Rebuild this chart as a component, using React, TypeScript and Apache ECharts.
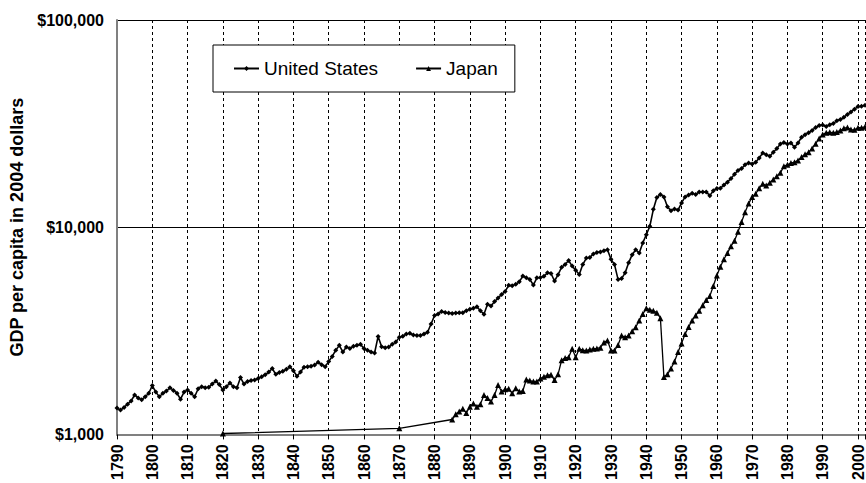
import React, { useEffect, useRef } from "react";
import * as echarts from "echarts";

// ---- data (GDP per capita, 2004 dollars) ----
const usStartYear = 1790;
const usValues = [
  1340, 1310, 1350, 1400, 1450, 1550, 1500, 1470, 1520, 1580, // 1790s
  1720, 1600, 1520, 1580, 1620, 1680, 1630, 1580, 1480, 1600, // 1800s
  1640, 1580, 1520, 1660, 1700, 1680, 1690, 1750, 1810, 1740, // 1810s
  1640, 1700, 1770, 1700, 1680, 1880, 1750, 1800, 1820, 1830, // 1820s
  1860, 1900, 1940, 2000, 2080, 1950, 1990, 2020, 2060, 2120, // 1830s
  2030, 1910, 2000, 2110, 2120, 2130, 2160, 2230, 2170, 2120, // 1840s
  2250, 2380, 2550, 2690, 2500, 2640, 2600, 2660, 2690, 2720, // 1850s
  2600, 2550, 2500, 2470, 2970, 2650, 2620, 2640, 2720, 2790, // 1860s
  2940, 2980, 3050, 3080, 3020, 3000, 3000, 3050, 3110, 3410, // 1870s
  3750, 3810, 3920, 3880, 3850, 3830, 3850, 3870, 3870, 3950, // 1880s
  4020, 4060, 4130, 3950, 3800, 4250, 4170, 4380, 4550, 4740, // 1890s
  4900, 5240, 5220, 5300, 5450, 5810, 5700, 5600, 5260, 5700, // 1900s
  5720, 5800, 6020, 5980, 5500, 5900, 6410, 6600, 6900, 6490, // 1910s
  6200, 5910, 6600, 7100, 7150, 7430, 7550, 7600, 7700, 7790, // 1920s
  7000, 6600, 5600, 5650, 6020, 6730, 7370, 7790, 7510, 8400, // 1930s
  9200, 10100, 12200, 13900, 14400, 14000, 12560, 12000, 12250, 12100, // 1940s
  13100, 14000, 14300, 14600, 14400, 14800, 14800, 14800, 14200, 15000, // 1950s
  15370, 15400, 16000, 16500, 17200, 18000, 18800, 19200, 20000, 20400, // 1960s
  20200, 20600, 21600, 22800, 22400, 22000, 23000, 24000, 25200, 25600, // 1970s
  25200, 25500, 24300, 25500, 27200, 27900, 28600, 29300, 30300, 31000, // 1980s
  31100, 30600, 31200, 31700, 32600, 33100, 33900, 35000, 36000, 37100, // 1990s
  38200, 38300, 38800, // 2000s
];

const japanYears = [
  1820, 1870,
  1885, 1886, 1887, 1888, 1889, 1890, 1891, 1892, 1893, 1894, 1895, 1896, 1897, 1898, 1899,
  1900, 1901, 1902, 1903, 1904, 1905, 1906, 1907, 1908, 1909,
  1910, 1911, 1912, 1913, 1914, 1915, 1916, 1917, 1918, 1919,
  1920, 1921, 1922, 1923, 1924, 1925, 1926, 1927, 1928, 1929,
  1930, 1931, 1932, 1933, 1934, 1935, 1936, 1937, 1938, 1939,
  1940, 1941, 1942, 1943, 1944, 1945, 1946, 1947, 1948, 1949,
  1950, 1951, 1952, 1953, 1954, 1955, 1956, 1957, 1958, 1959,
  1960, 1961, 1962, 1963, 1964, 1965, 1966, 1967, 1968, 1969,
  1970, 1971, 1972, 1973, 1974, 1975, 1976, 1977, 1978, 1979,
  1980, 1981, 1982, 1983, 1984, 1985, 1986, 1987, 1988, 1989,
  1990, 1991, 1992, 1993, 1994, 1995, 1996, 1997, 1998, 1999,
  2000, 2001, 2002,
];
const japanValues = [
  1010, 1070,
  1180, 1250, 1290, 1330, 1270, 1360, 1410, 1360, 1400, 1550, 1500, 1440, 1550, 1730, 1610,
  1650, 1660, 1580, 1670, 1610, 1620, 1840, 1820, 1800, 1800,
  1860, 1900, 1930, 1940, 1830, 1950, 2280, 2340, 2360, 2590,
  2360, 2590, 2550, 2540, 2570, 2590, 2600, 2620, 2780, 2840,
  2540, 2540, 2700, 3000, 2940, 3000, 3150, 3290, 3550, 3810,
  4060, 4000, 3950, 3870, 3640, 1890, 1950, 2080, 2250, 2500,
  2750, 3050, 3300, 3550, 3750, 3950, 4200, 4450, 4650, 5200,
  5850, 6450, 7000, 7500, 8100, 8600, 9500, 10600, 11800, 13000,
  14000, 14500, 15400, 16200, 15900, 16400, 17000, 17600, 18300, 19700,
  20000, 20400, 20600, 21000, 21800, 22500, 23000, 24000, 25300, 26800,
  28000, 28600, 28700, 28600, 28800, 29300, 30000, 30300, 29600, 29500,
  30200, 30200, 30500,
];

const yTickValues = [1000, 10000, 100000];
const yTickLabels = ["$1,000", "$10,000", "$100,000"];
const seriesNames = ["United States", "Japan"];
const yAxisTitle = "GDP per capita in 2004 dollars";

const FONT = "'Liberation Sans', Arial, sans-serif";

export default function App() {
  const ref = useRef<HTMLDivElement>(null);

  useEffect(() => {
    document.body.style.margin = "0";
    if (!ref.current) return;
    const chart = echarts.init(ref.current, null, { renderer: "svg" });

    const usData = usValues.map((v, i) => [usStartYear + i, v]);
    const jpData = japanYears.map((y, i) => [y, japanValues[i]]);

    chart.setOption({
      animation: false,
      backgroundColor: "#fff",
      textStyle: { fontFamily: FONT },
      grid: { left: 117, top: 20, right: 0, bottom: 45, containLabel: false },
      legend: {
        left: 213,
        top: 45,
        orient: "horizontal",
        backgroundColor: "#fff",
        borderColor: "#000",
        borderWidth: 1,
        padding: [14, 17, 14, 20],
        itemGap: 37,
        itemWidth: 25,
        itemHeight: 6,
        data: seriesNames,
        textStyle: { fontSize: 19, fontFamily: FONT, color: "#000" },
      },
      xAxis: {
        type: "value",
        min: 1790,
        max: 2002,
        interval: 10,
        axisLine: { show: true, lineStyle: { color: "#808080", width: 2 } },
        axisTick: { show: true, length: 5, lineStyle: { color: "#000" } },
        splitLine: {
          show: true,
          lineStyle: { color: "#000", type: [3, 3], width: 1 },
        },
        axisLabel: {
          rotate: 90,
          margin: 10,
          fontSize: 16,
          fontWeight: "bold",
          color: "#000",
          fontFamily: FONT,
          formatter: (v: number) => (v % 10 === 0 ? String(v) : ""),
        },
      },
      yAxis: {
        type: "log",
        logBase: 10,
        min: 1000,
        max: 100000,
        name: yAxisTitle,
        nameLocation: "middle",
        nameGap: 90,
        nameTextStyle: {
          fontSize: 18,
          fontWeight: "bold",
          color: "#000",
          fontFamily: FONT,
        },
        axisLine: { show: true, lineStyle: { color: "#808080", width: 2 } },
        axisTick: { show: false },
        splitLine: { show: true, lineStyle: { color: "#000", width: 1 } },
        axisLabel: {
          margin: 13,
          fontSize: 16,
          fontWeight: "bold",
          color: "#000",
          fontFamily: FONT,
          formatter: (v: number) => {
            const idx = yTickValues.findIndex((t) => Math.abs(t - v) < 1e-6 * t);
            return idx >= 0 ? yTickLabels[idx] : "";
          },
        },
      },
      series: [
        {
          name: seriesNames[0],
          type: "line",
          data: usData,
          symbol: "diamond",
          symbolSize: 5,
          showAllSymbol: true,
          lineStyle: { color: "#000", width: 1.6 },
          itemStyle: { color: "#000" },
        },
        {
          name: seriesNames[1],
          type: "line",
          data: jpData,
          symbol: "triangle",
          symbolSize: 6,
          showAllSymbol: true,
          lineStyle: { color: "#000", width: 1.3 },
          itemStyle: { color: "#000" },
        },
      ],
    });

    return () => chart.dispose();
  }, []);

  return <div ref={ref} style={{ width: 866, height: 483 }} />;
}
